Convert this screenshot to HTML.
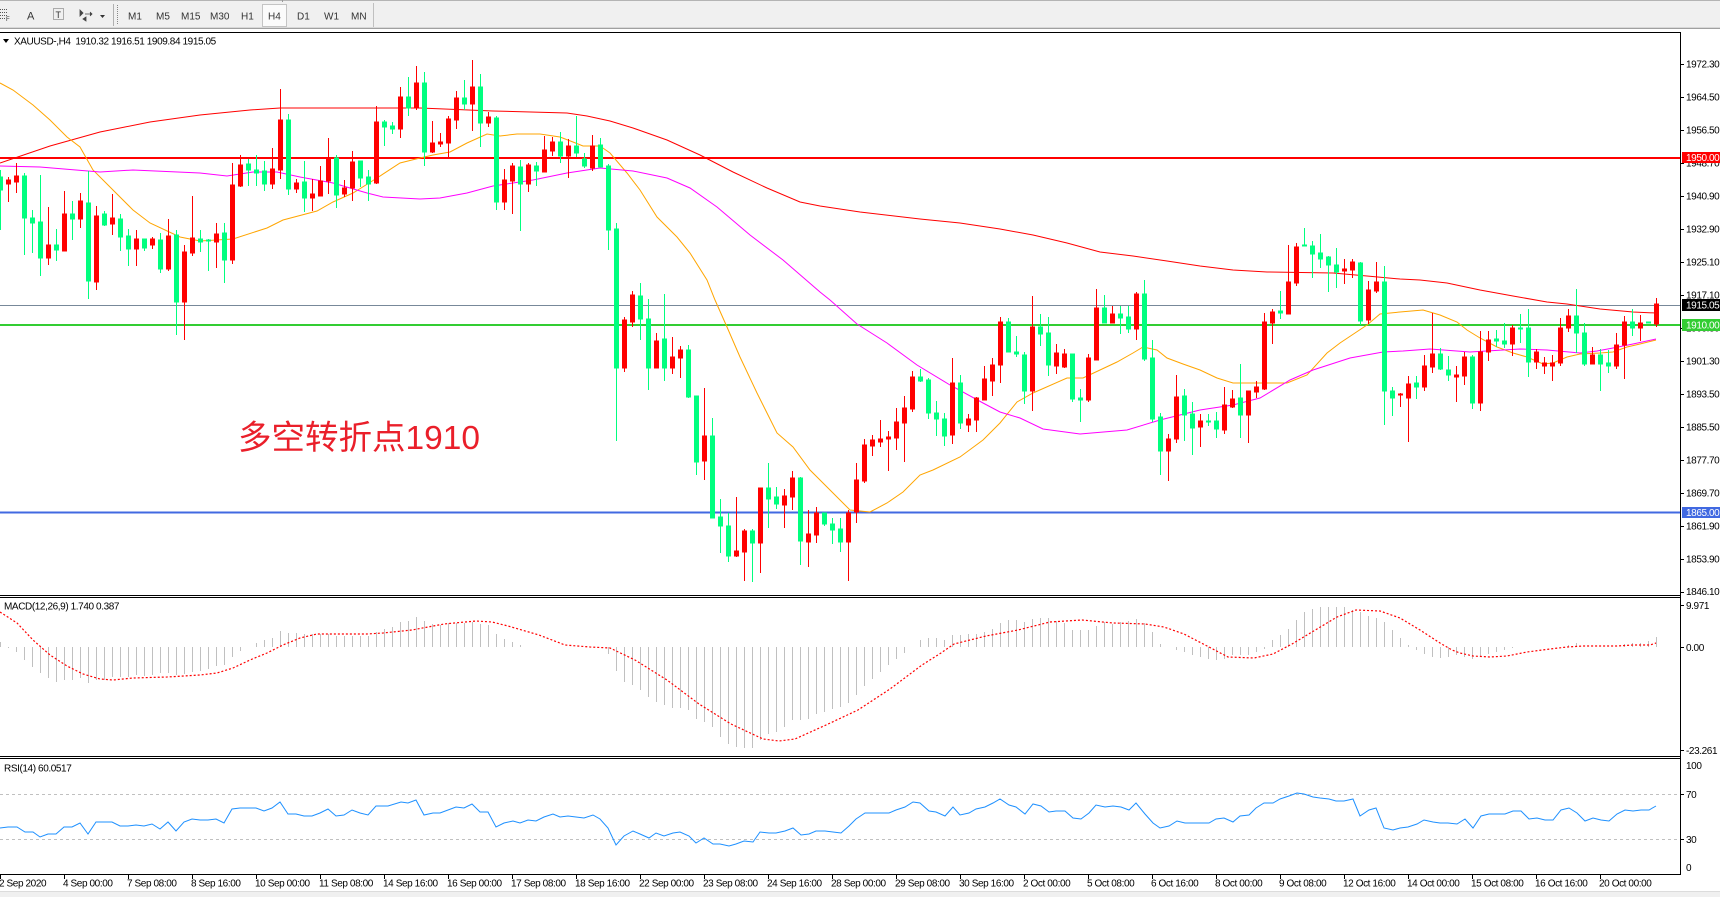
<!DOCTYPE html>
<html><head><meta charset="utf-8"><style>
body{margin:0;width:1720px;height:897px;overflow:hidden;background:#fff}
svg{display:block}
text{font-family:"Liberation Sans",sans-serif;font-size:10px;letter-spacing:-0.4px;fill:#000}
.tb{font-size:10px;fill:#333;letter-spacing:0}
.w{fill:#fff}
</style></head><body>
<svg width="1720" height="897" viewBox="0 0 1720 897" xmlns="http://www.w3.org/2000/svg">
<!-- toolbar -->
<rect x="0" y="0" width="1720" height="29" fill="#f0f0f0"/>
<line x1="0" y1="0.5" x2="1720" y2="0.5" stroke="#b4b4b4"/>
<line x1="282.5" y1="0" x2="282.5" y2="2" stroke="#999"/>
<line x1="0" y1="28.5" x2="1720" y2="28.5" stroke="#a0a0a0"/>
<line x1="0" y1="27.5" x2="1720" y2="27.5" stroke="#d8d8d8"/>
<g stroke="#555" stroke-dasharray="1,1"><line x1="0" y1="9.5" x2="8" y2="9.5"/><line x1="0" y1="12.5" x2="8" y2="12.5"/><line x1="0" y1="15.5" x2="8" y2="15.5"/><line x1="0" y1="18.5" x2="5" y2="18.5"/></g>
<text x="6" y="21" style="font-size:6px;letter-spacing:0;fill:#333">F</text>
<text x="27" y="19.5" style="font-size:11px;letter-spacing:0;fill:#333">A</text>
<rect x="53.5" y="8.5" width="10" height="11" fill="none" stroke="#666" stroke-dasharray="1,1"/>
<text x="55.5" y="18" style="font-size:9px;letter-spacing:0;fill:#333">T</text>
<path d="M80 10l3 3-3 3zM85 14h7M90 12l2 2-2 2M83 19l3-2v4z" fill="#444" stroke="#444" stroke-width="0.8"/>
<path d="M100 15h5l-2.5 3z" fill="#333"/>
<line x1="113.5" y1="4" x2="113.5" y2="26" stroke="#b0b0b0"/>
<line x1="117.5" y1="5" x2="117.5" y2="25" stroke="#888" stroke-dasharray="1,1"/>
<rect x="262.5" y="4.5" width="24" height="22" fill="#fbfbfb" stroke="#c4c4c4"/>
<text class="tb" x="128" y="19.5">M1</text>
<text class="tb" x="156" y="19.5">M5</text>
<text class="tb" x="181" y="19.5">M15</text>
<text class="tb" x="210" y="19.5">M30</text>
<text class="tb" x="241" y="19.5">H1</text>
<text class="tb" x="268" y="19.5">H4</text>
<text class="tb" x="297" y="19.5">D1</text>
<text class="tb" x="324" y="19.5">W1</text>
<text class="tb" x="351" y="19.5">MN</text>
<line x1="373.5" y1="3" x2="373.5" y2="27" stroke="#c0c0c0"/>

<!-- frames -->
<g stroke="#000" stroke-width="1">
<line x1="0" y1="32.5" x2="1681" y2="32.5"/>
<line x1="1680.5" y1="32" x2="1680.5" y2="875"/>
<line x1="0" y1="595.5" x2="1681" y2="595.5"/>
<line x1="0" y1="597.5" x2="1681" y2="597.5"/>
<line x1="0" y1="756.5" x2="1681" y2="756.5"/>
<line x1="0" y1="758.5" x2="1681" y2="758.5"/>
<line x1="0" y1="874.5" x2="1681" y2="874.5"/>
</g>
<rect x="0" y="892" width="1720" height="5" fill="#f0f0f0"/>
<line x1="0" y1="891.5" x2="1720" y2="891.5" stroke="#dcdcdc"/>

<!-- header -->
<path d="M3 39h6l-3 4z" fill="#000"/>
<text x="14" y="44.5" xml:space="preserve">XAUUSD-,H4  1910.32 1916.51 1909.84 1915.05</text>

<!-- horizontal levels -->
<line x1="0" y1="158" x2="1680" y2="158" stroke="#ff0000" stroke-width="2"/>
<line x1="0" y1="305.5" x2="1680" y2="305.5" stroke="#778899" stroke-width="1"/>
<line x1="0" y1="325" x2="1680" y2="325" stroke="#32cd32" stroke-width="2"/>
<line x1="0" y1="512.5" x2="1680" y2="512.5" stroke="#4169e1" stroke-width="2"/>

<!-- moving averages -->
<polyline fill="none" stroke="#ff0000" stroke-width="1" points="0,163 50,146 100,132 150,122 200,115 250,110 280,108 420,108 493,111 567,113 587,116 610,121 633,128 667,140 700,155 733,172 767,188 800,202 820,206 860,212 920,219 960,223 1000,229 1033,235 1067,243 1100,252 1133,256 1167,261 1200,266 1233,270 1267,272 1333,273 1367,276 1400,279 1420,280 1447,283 1480,290 1513,296 1547,302 1567,304 1600,309 1633,312 1656,313"/>
<polyline fill="none" stroke="#ffa500" stroke-width="1" points="0,83 13,90 33,105 50,120 67,137 80,147 93,170 110,187 133,210 150,223 180,237 200,241 233,239 267,228 283,220 317,211 333,202 353,193 377,178 400,163 420,158 433,155 450,152 467,143 487,134 500,136 517,134 540,134 560,137 573,142 583,146 600,146 610,153 627,173 640,190 657,217 677,237 690,253 707,280 715,300 727,327 740,357 757,393 767,413 777,433 793,447 810,470 830,490 850,510 870,512 887,503 903,492 920,475 933,470 960,457 983,440 1000,423 1017,402 1033,393 1067,378 1083,378 1100,370 1117,362 1133,353 1143,347 1157,350 1167,358 1183,364 1200,370 1217,378 1233,383 1287,383 1307,375 1327,353 1340,343 1367,325 1380,314 1400,312 1423,310 1440,315 1457,322 1467,330 1480,338 1497,347 1513,353 1527,357 1543,364 1553,363 1567,357 1580,354 1600,353 1613,352 1627,347 1640,344 1656,340"/>
<polyline fill="none" stroke="#ff00ff" stroke-width="1" points="0,166 40,167 100,172 133,170 200,173 227,176 253,172 277,172 300,177 333,183 367,193 383,197 420,199 440,198 467,193 493,186 533,180 567,173 600,168 633,171 667,178 690,188 717,207 750,235 783,260 820,292 830,300 857,324 887,343 917,365 950,385 983,403 1000,412 1020,418 1043,429 1080,434 1127,430 1160,420 1200,410 1233,405 1260,398 1290,380 1313,370 1350,358 1383,352 1403,351 1430,349 1470,352 1520,349 1547,350 1580,353 1597,351 1613,348 1633,344 1656,339"/>

<!-- red (rising) candles -->
<path fill="#ff0000" stroke="#ff0000" stroke-width="1" d="M8.5 177V202M6.5 180h4v4h-4zM16.5 163V193M14.5 176h4v6h-4zM48.5 207V265M46.5 245h4v13h-4zM64.5 191V251M62.5 214h4v37h-4zM80.5 193V228M78.5 201h4v18h-4zM96.5 206V290M94.5 216h4v66h-4zM112.5 194V235M110.5 218h4v6h-4zM136.5 230V266M134.5 239h4v10h-4zM152.5 237V249M150.5 239h4v6h-4zM168.5 219V271M166.5 236h4v33h-4zM184.5 245V340M182.5 252h4v50h-4zM192.5 196V256M190.5 238h4v15h-4zM216.5 223V268M214.5 234h4v8h-4zM232.5 163V264M230.5 185h4v75h-4zM240.5 155V187M238.5 165h4v21h-4zM272.5 148V189M270.5 169h4v15h-4zM280.5 89V179M278.5 120h4v50h-4zM296.5 179V193M294.5 183h4v6h-4zM312.5 179V211M310.5 194h4v4h-4zM320.5 166V196M318.5 181h4v15h-4zM328.5 138V194M326.5 158h4v23h-4zM344.5 180V197M342.5 188h4v6h-4zM352.5 151V201M350.5 162h4v26h-4zM376.5 106V184M374.5 122h4v61h-4zM400.5 87V138M398.5 97h4v32h-4zM416.5 66V110M414.5 83h4v25h-4zM432.5 121V153M430.5 143h4v9h-4zM440.5 133V147M438.5 142h4v2h-4zM448.5 116V159M446.5 119h4v24h-4zM456.5 91V129M454.5 98h4v22h-4zM472.5 60V131M470.5 87h4v17h-4zM488.5 112V127M486.5 117h4v6h-4zM504.5 169V210M502.5 180h4v22h-4zM512.5 163V214M510.5 166h4v15h-4zM528.5 163V192M526.5 165h4v19h-4zM544.5 136V172M542.5 150h4v22h-4zM552.5 137V156M550.5 142h4v9h-4zM568.5 139V178M566.5 146h4v10h-4zM592.5 135V171M590.5 146h4v22h-4zM624.5 317V372M622.5 320h4v48h-4zM632.5 291V327M630.5 295h4v27h-4zM656.5 333V368M654.5 341h4v27h-4zM672.5 337V374M670.5 357h4v11h-4zM680.5 346V378M678.5 350h4v8h-4zM704.5 388V480M702.5 436h4v25h-4zM736.5 497V557M734.5 551h4v5h-4zM744.5 529V581M742.5 531h4v21h-4zM760.5 488V573M758.5 488h4v55h-4zM784.5 489V528M782.5 496h4v9h-4zM792.5 471V510M790.5 478h4v19h-4zM808.5 510V567M806.5 534h4v8h-4zM816.5 507V543M814.5 513h4v22h-4zM848.5 510V581M846.5 513h4v29h-4zM856.5 463V523M854.5 480h4v32h-4zM864.5 439V483M862.5 445h4v36h-4zM872.5 435V456M870.5 440h4v6h-4zM880.5 420V447M878.5 439h4v3h-4zM888.5 431V471M886.5 437h4v2h-4zM896.5 408V450M894.5 422h4v16h-4zM904.5 396V462M902.5 408h4v15h-4zM912.5 371V412M910.5 377h4v32h-4zM952.5 358V444M950.5 383h4v52h-4zM968.5 414V432M966.5 419h4v6h-4zM976.5 397V432M974.5 398h4v22h-4zM984.5 366V400M982.5 379h4v21h-4zM992.5 358V396M990.5 365h4v16h-4zM1000.5 317V383M998.5 322h4v43h-4zM1032.5 296V411M1030.5 327h4v64h-4zM1056.5 344V374M1054.5 353h4v13h-4zM1064.5 349V368M1062.5 354h4v13h-4zM1088.5 354V402M1086.5 358h4v42h-4zM1096.5 289V360M1094.5 308h4v52h-4zM1112.5 306V323M1110.5 314h4v9h-4zM1136.5 292V340M1134.5 294h4v35h-4zM1168.5 434V481M1166.5 439h4v12h-4zM1176.5 375V443M1174.5 397h4v42h-4zM1200.5 414V447M1198.5 421h4v6h-4zM1224.5 387V434M1222.5 405h4v25h-4zM1232.5 390V408M1230.5 399h4v8h-4zM1248.5 391V443M1246.5 391h4v24h-4zM1256.5 381V398M1254.5 387h4v5h-4zM1264.5 313V390M1262.5 322h4v67h-4zM1272.5 309V344M1270.5 312h4v11h-4zM1288.5 245V314M1286.5 282h4v32h-4zM1296.5 243V286M1294.5 247h4v36h-4zM1344.5 259V284M1342.5 269h4v2h-4zM1352.5 259V278M1350.5 262h4v8h-4zM1368.5 281V324M1366.5 290h4v30h-4zM1376.5 262V293M1374.5 282h4v9h-4zM1400.5 393V407M1398.5 394h4v1h-4zM1408.5 376V442M1406.5 384h4v14h-4zM1424.5 355V391M1422.5 366h4v21h-4zM1432.5 313V373M1430.5 354h4v13h-4zM1456.5 366V402M1454.5 375h4v2h-4zM1464.5 352V385M1462.5 357h4v19h-4zM1480.5 331V411M1478.5 352h4v51h-4zM1488.5 331V361M1486.5 340h4v12h-4zM1512.5 325V356M1510.5 328h4v16h-4zM1536.5 349V369M1534.5 352h4v10h-4zM1544.5 357V374M1542.5 363h4v3h-4zM1552.5 355V381M1550.5 363h4v3h-4zM1560.5 318V366M1558.5 328h4v35h-4zM1568.5 309V332M1566.5 316h4v12h-4zM1592.5 347V364M1590.5 355h4v9h-4zM1616.5 333V369M1614.5 345h4v21h-4zM1624.5 316V379M1622.5 322h4v23h-4zM1640.5 315V341M1638.5 323h4v5h-4zM1656.5 298V327M1654.5 304h4v20h-4z"/>
<!-- green (falling) candles -->
<path fill="#00ff7f" stroke="#00ff7f" stroke-width="1" d="M0.5 170V230M-1.5 177h4v13h-4zM24.5 173V255M22.5 176h4v42h-4zM32.5 210V253M30.5 218h4v5h-4zM40.5 175V276M38.5 222h4v36h-4zM56.5 229V261M54.5 245h4v5h-4zM72.5 201V240M70.5 214h4v5h-4zM88.5 171V299M86.5 203h4v78h-4zM104.5 211V226M102.5 214h4v11h-4zM120.5 214V251M118.5 219h4v18h-4zM128.5 229V266M126.5 236h4v13h-4zM144.5 239V251M142.5 239h4v9h-4zM160.5 233V273M158.5 240h4v29h-4zM176.5 230V335M174.5 235h4v67h-4zM200.5 230V252M198.5 239h4v3h-4zM208.5 239V271M206.5 240h4v1h-4zM224.5 223V283M222.5 233h4v27h-4zM248.5 159V186M246.5 164h4v6h-4zM256.5 155V186M254.5 170h4v3h-4zM264.5 161V191M262.5 171h4v13h-4zM288.5 114V195M286.5 120h4v69h-4zM304.5 161V212M302.5 182h4v16h-4zM336.5 155V208M334.5 158h4v37h-4zM360.5 161V187M358.5 161h4v17h-4zM368.5 170V201M366.5 177h4v7h-4zM384.5 120V146M382.5 122h4v5h-4zM392.5 122V134M390.5 126h4v3h-4zM408.5 77V116M406.5 97h4v11h-4zM424.5 72V166M422.5 83h4v69h-4zM464.5 80V110M462.5 98h4v6h-4zM480.5 74V147M478.5 87h4v36h-4zM496.5 116V210M494.5 118h4v84h-4zM520.5 160V231M518.5 167h4v17h-4zM536.5 162V186M534.5 166h4v5h-4zM560.5 132V163M558.5 142h4v14h-4zM576.5 116V157M574.5 146h4v7h-4zM584.5 153V168M582.5 159h4v7h-4zM600.5 138V167M598.5 145h4v22h-4zM608.5 164V250M606.5 166h4v64h-4zM616.5 223V441M614.5 229h4v139h-4zM640.5 283V340M638.5 296h4v23h-4zM648.5 299V390M646.5 319h4v49h-4zM664.5 294V381M662.5 339h4v29h-4zM688.5 345V398M686.5 350h4v47h-4zM696.5 396V475M694.5 396h4v66h-4zM712.5 418V518M710.5 436h4v82h-4zM720.5 499V553M718.5 517h4v9h-4zM728.5 513V562M726.5 526h4v30h-4zM752.5 529V582M750.5 531h4v12h-4zM768.5 463V528M766.5 488h4v11h-4zM776.5 487V509M774.5 497h4v7h-4zM800.5 477V565M798.5 478h4v63h-4zM824.5 513V526M822.5 513h4v11h-4zM832.5 518V544M830.5 524h4v6h-4zM840.5 518V552M838.5 529h4v13h-4zM920.5 369V382M918.5 377h4v4h-4zM928.5 378V419M926.5 380h4v33h-4zM936.5 401V436M934.5 413h4v6h-4zM944.5 413V446M942.5 419h4v17h-4zM960.5 375V429M958.5 383h4v40h-4zM1008.5 318V352M1006.5 322h4v30h-4zM1016.5 336V357M1014.5 352h4v2h-4zM1024.5 352V404M1022.5 355h4v36h-4zM1040.5 314V346M1038.5 327h4v7h-4zM1048.5 317V376M1046.5 333h4v32h-4zM1072.5 354V402M1070.5 354h4v45h-4zM1080.5 389V422M1078.5 398h4v2h-4zM1104.5 295V323M1102.5 308h4v15h-4zM1120.5 306V334M1118.5 314h4v4h-4zM1128.5 306V333M1126.5 317h4v12h-4zM1144.5 280V361M1142.5 294h4v65h-4zM1152.5 340V422M1150.5 358h4v61h-4zM1160.5 413V475M1158.5 417h4v34h-4zM1184.5 389V441M1182.5 396h4v19h-4zM1192.5 402V455M1190.5 414h4v14h-4zM1208.5 414V426M1206.5 421h4v1h-4zM1216.5 412V438M1214.5 421h4v8h-4zM1240.5 364V438M1238.5 398h4v17h-4zM1280.5 291V319M1278.5 311h4v2h-4zM1304.5 228V246M1302.5 245h4v1h-4zM1312.5 241V278M1310.5 246h4v8h-4zM1320.5 234V268M1318.5 253h4v6h-4zM1328.5 256V292M1326.5 257h4v8h-4zM1336.5 248V288M1334.5 265h4v7h-4zM1360.5 262V325M1358.5 263h4v58h-4zM1384.5 266V425M1382.5 282h4v109h-4zM1392.5 387V416M1390.5 391h4v7h-4zM1416.5 376V399M1414.5 383h4v4h-4zM1440.5 348V370M1438.5 354h4v15h-4zM1448.5 356V381M1446.5 370h4v5h-4zM1472.5 355V409M1470.5 357h4v46h-4zM1496.5 330V347M1494.5 339h4v2h-4zM1504.5 323V348M1502.5 341h4v3h-4zM1520.5 314V343M1518.5 328h4v1h-4zM1528.5 309V377M1526.5 328h4v34h-4zM1576.5 289V353M1574.5 316h4v17h-4zM1584.5 323V366M1582.5 333h4v31h-4zM1600.5 349V391M1598.5 355h4v9h-4zM1608.5 350V373M1606.5 363h4v3h-4zM1632.5 309V336M1630.5 322h4v6h-4zM1648.5 322V323M1646.5 322h4v1h-4z"/>

<!-- annotation -->
<text x="238" y="449" style="font-family:'Liberation Sans','Noto Sans CJK SC',sans-serif;font-size:33.5px;letter-spacing:0;fill:#ea1f2a">多空转折点1910</text>

<!-- price axis -->
<g stroke="#000"><path d="M1680 64.5h4M1680 97.5h4M1680 130.5h4M1680 163.5h4M1680 196.5h4M1680 229.5h4M1680 262.5h4M1680 295.5h4M1680 328.5h4M1680 361.5h4M1680 394.5h4M1680 427.5h4M1680 460.5h4M1680 493.5h4M1680 526.5h4M1680 559.5h4M1680 592.5h4"/></g>
<text x="1686" y="67.5">1972.30</text>
<text x="1686" y="100.5">1964.50</text>
<text x="1686" y="133.5">1956.50</text>
<text x="1686" y="166.5">1948.70</text>
<text x="1686" y="199.5">1940.90</text>
<text x="1686" y="232.5">1932.90</text>
<text x="1686" y="265.5">1925.10</text>
<text x="1686" y="298.5">1917.10</text>
<text x="1686" y="331.5">1909.30</text>
<text x="1686" y="364.5">1901.30</text>
<text x="1686" y="397.5">1893.50</text>
<text x="1686" y="430.5">1885.50</text>
<text x="1686" y="463.5">1877.70</text>
<text x="1686" y="496.5">1869.70</text>
<text x="1686" y="529.5">1861.90</text>
<text x="1686" y="562.5">1853.90</text>
<text x="1686" y="595">1846.10</text>
<rect x="1682" y="152" width="38" height="11" fill="#ff0000"/>
<text class="w" x="1686" y="161">1950.00</text>
<rect x="1682" y="299" width="38" height="12" fill="#000"/>
<text class="w" x="1686" y="308.5">1915.05</text>
<rect x="1682" y="319" width="38" height="12" fill="#32cd32"/>
<text class="w" x="1686" y="328.5">1910.00</text>
<rect x="1682" y="507" width="38" height="11" fill="#4169e1"/>
<text class="w" x="1686" y="516">1865.00</text>

<!-- MACD -->
<text x="4" y="609.5">MACD(12,26,9) 1.740 0.387</text>
<path fill="none" stroke="#c0c0c0" stroke-width="1" d="M0.5 647V642M8.5 647V648M16.5 647V652M24.5 647V660M32.5 647V667M40.5 647V673M48.5 647V678M56.5 647V682M64.5 647V680M72.5 647V680M80.5 647V678M88.5 647V683M96.5 647V680M104.5 647V680M112.5 647V677M120.5 647V677M128.5 647V677M136.5 647V675M144.5 647V676M152.5 647V675M160.5 647V673M168.5 647V673M176.5 647V675M184.5 647V674M192.5 647V672M200.5 647V671M208.5 647V669M216.5 647V666M224.5 647V665M232.5 647V657M240.5 647V651M256.5 647V643M264.5 647V640M272.5 647V638M280.5 647V631M288.5 647V633M296.5 647V633M304.5 647V634M312.5 647V634M320.5 647V634M328.5 647V634M336.5 647V636M344.5 647V636M352.5 647V636M360.5 647V636M368.5 647V636M376.5 647V632M384.5 647V629M392.5 647V627M400.5 647V622M408.5 647V621M416.5 647V617M424.5 647V621M432.5 647V624M440.5 647V625M448.5 647V623M456.5 647V623M464.5 647V623M472.5 647V622M480.5 647V624M488.5 647V625M496.5 647V634M504.5 647V639M512.5 647V642M520.5 647V645M608.5 647V654M616.5 647V671M624.5 647V682M632.5 647V685M640.5 647V690M648.5 647V697M656.5 647V702M664.5 647V705M672.5 647V708M680.5 647V708M688.5 647V710M696.5 647V719M704.5 647V722M712.5 647V727M720.5 647V737M728.5 647V744M736.5 647V747M744.5 647V748M752.5 647V748M760.5 647V740M768.5 647V734M776.5 647V732M784.5 647V727M792.5 647V720M800.5 647V720M808.5 647V719M816.5 647V714M824.5 647V712M832.5 647V709M840.5 647V707M848.5 647V703M856.5 647V695M864.5 647V686M872.5 647V679M880.5 647V672M888.5 647V665M896.5 647V659M904.5 647V653M920.5 647V640M928.5 647V638M936.5 647V638M944.5 647V640M952.5 647V635M960.5 647V635M968.5 647V634M976.5 647V634M984.5 647V632M992.5 647V629M1000.5 647V623M1008.5 647V620M1016.5 647V620M1024.5 647V622M1032.5 647V619M1040.5 647V618M1048.5 647V618M1056.5 647V621M1064.5 647V623M1072.5 647V630M1080.5 647V630M1088.5 647V630M1096.5 647V626M1104.5 647V622M1112.5 647V624M1120.5 647V622M1128.5 647V621M1136.5 647V619M1144.5 647V623M1152.5 647V632M1160.5 647V644M1176.5 647V650M1184.5 647V652M1192.5 647V655M1200.5 647V657M1208.5 647V659M1216.5 647V660M1224.5 647V659M1232.5 647V655M1240.5 647V655M1248.5 647V655M1256.5 647V652M1264.5 647V649M1272.5 647V640M1280.5 647V635M1288.5 647V629M1296.5 647V620M1304.5 647V612M1312.5 647V609M1320.5 647V607M1328.5 647V607M1336.5 647V607M1344.5 647V607M1352.5 647V610M1360.5 647V612M1368.5 647V616M1376.5 647V618M1384.5 647V622M1392.5 647V630M1400.5 647V638M1408.5 647V645M1416.5 647V650M1424.5 647V654M1432.5 647V657M1440.5 647V658M1448.5 647V657M1456.5 647V655M1464.5 647V657M1472.5 647V659M1480.5 647V656M1488.5 647V654M1496.5 647V652M1504.5 647V650M1512.5 647V648M1568.5 647V645M1576.5 647V643M1624.5 647V644M1632.5 647V643M1640.5 647V643M1648.5 647V641M1656.5 647V637"/>
<polyline fill="none" stroke="#ff0000" stroke-width="1.2" stroke-dasharray="2,2" points="0,612 17,623 33,640 50,655 67,666 83,674 100,679 113,680 133,678 167,677 200,675 217,673 233,668 250,660 267,653 283,645 300,638 317,634 367,634 383,633 412,630 444,624 476,621 492,622 508,626 539,635 565,645 590,647 610,648 635,660 667,680 699,704 731,724 763,739 779,741 795,739 826,725 858,710 890,689 922,665 941,653 954,644 986,636 1018,630 1050,622 1082,620 1113,623 1145,624 1164,627 1184,634 1209,647 1228,657 1254,658 1273,654 1292,644 1317,629 1337,617 1356,610 1380,611 1400,618 1420,630 1440,643 1452,650 1460,653 1473,656 1490,657 1507,656 1527,652 1550,649 1567,647 1583,646 1617,646 1633,645 1650,645 1656,643"/>
<g stroke="#000"><path d="M1680 605.5h4M1680 647.5h4M1680 750.5h4"/></g>
<text x="1686" y="609">9.971</text>
<text x="1686" y="651">0.00</text>
<text x="1686" y="754">-23.261</text>

<!-- RSI -->
<text x="4" y="771.5">RSI(14) 60.0517</text>
<line x1="0" y1="794.5" x2="1680" y2="794.5" stroke="#c0c0c0" stroke-dasharray="3,3"/>
<line x1="0" y1="839.5" x2="1680" y2="839.5" stroke="#c0c0c0" stroke-dasharray="3,3"/>
<polyline fill="none" stroke="#1e90ff" stroke-width="1" points="0,828 8,827 17,827 25,832 33,832 40,837 48,834 56,834 64,827 72,827 80,823 88,834 96,822 104,822 112,822 120,826 128,826 136,825 144,826 152,824 160,829 168,822 176,831 184,822 192,819 200,820 208,820 216,819 224,823 232,809 240,808 248,808 256,808 264,811 272,808 280,802 288,814 296,814 304,816 312,816 320,813 328,809 336,816 344,815 352,810 360,813 368,815 376,806 384,806 388,806 401,802 408,803 416,800 424,815 433,813 440,813 448,810 456,807 464,808 472,804 480,812 488,812 496,827 504,823 513,821 520,823 528,820 536,821 544,817 553,814 560,817 568,816 576,817 584,818 593,815 600,819 608,828 616,845 624,836 633,831 640,834 649,838 656,833 664,836 673,833 680,832 689,836 696,843 704,838 713,844 720,844 729,846 736,844 744,841 753,842 760,832 769,833 776,833 785,831 793,828 801,835 809,834 816,831 825,831 833,832 841,833 849,826 856,819 865,813 873,813 881,813 889,813 896,810 905,807 913,802 920,803 929,811 936,812 945,816 953,807 960,815 969,813 976,809 985,807 993,803 1000,799 1009,805 1016,807 1025,814 1033,804 1041,806 1049,812 1056,811 1065,811 1073,818 1081,819 1089,813 1096,805 1105,807 1113,806 1121,807 1129,810 1136,803 1145,814 1153,823 1160,828 1169,826 1177,821 1185,823 1193,823 1200,823 1209,823 1216,819 1224,818 1233,822 1240,816 1249,815 1256,808 1264,803 1273,803 1280,799 1289,796 1297,793 1304,794 1313,797 1320,798 1329,799 1336,801 1344,801 1353,799 1360,816 1369,810 1376,808 1384,828 1393,830 1400,828 1408,827 1417,824 1424,820 1433,822 1440,823 1448,823 1457,824 1465,819 1473,828 1481,816 1489,814 1497,814 1505,814 1513,811 1521,811 1529,819 1537,818 1545,820 1553,820 1561,810 1569,808 1577,813 1585,821 1593,818 1601,820 1609,821 1617,814 1625,810 1633,811 1641,810 1649,810 1656,806"/>
<g stroke="#000"><path d="M1680 794.5h4M1680 839.5h4"/></g>
<text x="1686" y="769">100</text>
<text x="1686" y="798">70</text>
<text x="1686" y="843">30</text>
<text x="1686" y="871">0</text>

<!-- time axis -->
<g stroke="#000"><path d="M0.5 875v4M64.5 875v4M128.5 875v4M192.5 875v4M256.5 875v4M320.5 875v4M384.5 875v4M448.5 875v4M512.5 875v4M576.5 875v4M640.5 875v4M704.5 875v4M768.5 875v4M832.5 875v4M896.5 875v4M960.5 875v4M1024.5 875v4M1088.5 875v4M1152.5 875v4M1216.5 875v4M1280.5 875v4M1344.5 875v4M1408.5 875v4M1472.5 875v4M1536.5 875v4M1600.5 875v4"/></g>
<text x="-1" y="886.5">2 Sep 2020</text>
<text x="63" y="886.5">4 Sep 00:00</text>
<text x="127" y="886.5">7 Sep 08:00</text>
<text x="191" y="886.5">8 Sep 16:00</text>
<text x="255" y="886.5">10 Sep 00:00</text>
<text x="319" y="886.5">11 Sep 08:00</text>
<text x="383" y="886.5">14 Sep 16:00</text>
<text x="447" y="886.5">16 Sep 00:00</text>
<text x="511" y="886.5">17 Sep 08:00</text>
<text x="575" y="886.5">18 Sep 16:00</text>
<text x="639" y="886.5">22 Sep 00:00</text>
<text x="703" y="886.5">23 Sep 08:00</text>
<text x="767" y="886.5">24 Sep 16:00</text>
<text x="831" y="886.5">28 Sep 00:00</text>
<text x="895" y="886.5">29 Sep 08:00</text>
<text x="959" y="886.5">30 Sep 16:00</text>
<text x="1023" y="886.5">2 Oct 00:00</text>
<text x="1087" y="886.5">5 Oct 08:00</text>
<text x="1151" y="886.5">6 Oct 16:00</text>
<text x="1215" y="886.5">8 Oct 00:00</text>
<text x="1279" y="886.5">9 Oct 08:00</text>
<text x="1343" y="886.5">12 Oct 16:00</text>
<text x="1407" y="886.5">14 Oct 00:00</text>
<text x="1471" y="886.5">15 Oct 08:00</text>
<text x="1535" y="886.5">16 Oct 16:00</text>
<text x="1599" y="886.5">20 Oct 00:00</text>
</svg>
</body></html>
